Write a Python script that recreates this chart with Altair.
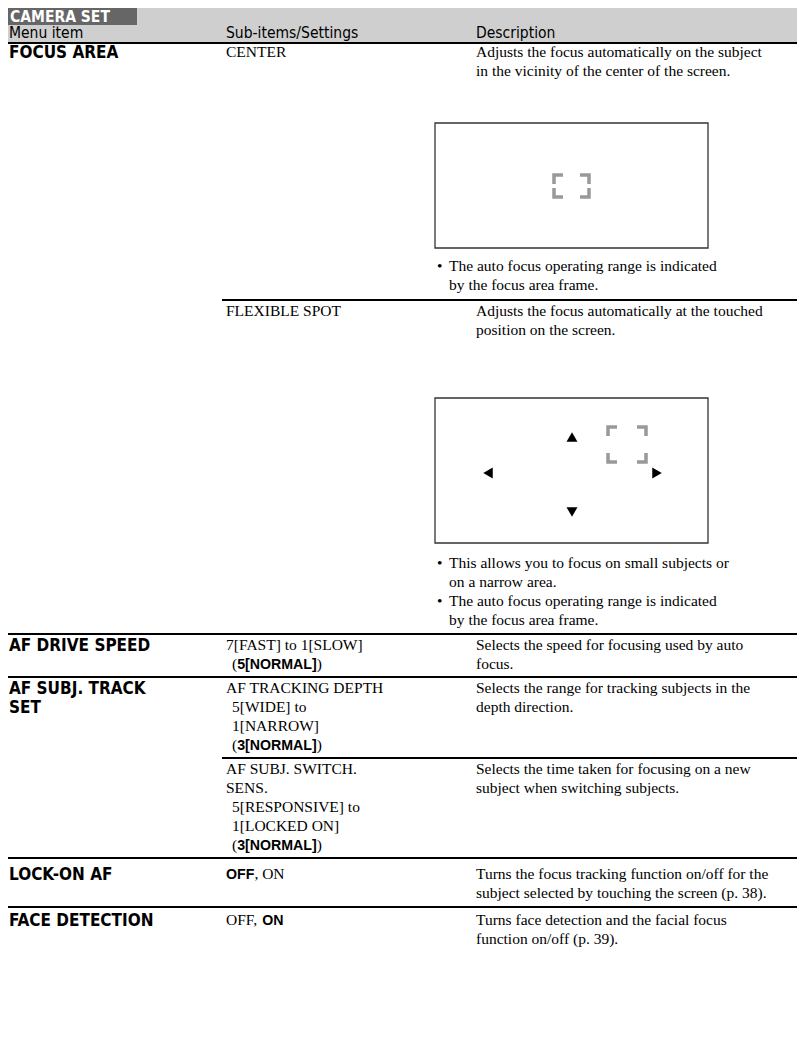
import altair as alt
import pandas as pd

# ---------------- content ----------------
TITLE = "CAMERA SET"
HEADERS = ["Menu item", "Sub-items/Settings", "Description"]

MENU_ITEMS = [["FOCUS AREA"], ["AF DRIVE SPEED"], ["AF SUBJ. TRACK", "SET"], ["LOCK-ON AF"], ["FACE DETECTION"]]

# each sub-item line: list of (text, bold) segments, plus indent flag
CENTER_SUB = [[("CENTER", 0)]]
CENTER_DESC = ["Adjusts the focus automatically on the subject",
               "in the vicinity of the center of the screen."]
CENTER_NOTES = [["The auto focus operating range is indicated", "by the focus area frame."]]

FLEX_SUB = [[("FLEXIBLE SPOT", 0)]]
FLEX_DESC = ["Adjusts the focus automatically at the touched", "position on the screen."]
FLEX_NOTES = [["This allows you to focus on small subjects or", "on a narrow area."],
              ["The auto focus operating range is indicated", "by the focus area frame."]]

DRIVE_SUB = [[("7[FAST] to 1[SLOW]", 0)], [("(", 0), ("5[NORMAL]", 1), (")", 0)]]
DRIVE_INDENT = [0, 1]
DRIVE_DESC = ["Selects the speed for focusing used by auto", "focus."]

DEPTH_SUB = [[("AF TRACKING DEPTH", 0)], [("5[WIDE] to", 0)], [("1[NARROW]", 0)],
             [("(", 0), ("3[NORMAL]", 1), (")", 0)]]
DEPTH_INDENT = [0, 1, 1, 1]
DEPTH_DESC = ["Selects the range for tracking subjects in the", "depth direction."]

SWITCH_SUB = [[("AF SUBJ. SWITCH.", 0)], [("SENS.", 0)], [("5[RESPONSIVE] to", 0)],
              [("1[LOCKED ON]", 0)], [("(", 0), ("3[NORMAL]", 1), (")", 0)]]
SWITCH_INDENT = [0, 0, 1, 1, 1]
SWITCH_DESC = ["Selects the time taken for focusing on a new", "subject when switching subjects."]

LOCK_SUB = [[("OFF", 1), (", ON", 0)]]
LOCK_DESC = ["Turns the focus tracking function on/off for the",
             "subject selected by touching the screen (p. 38)."]

FACE_SUB = [[("OFF, ", 0), ("ON", 1)]]
FACE_DESC = ["Turns face detection and the facial focus", "function on/off (p. 39)."]

ARROWS = ["triangle-up", "triangle-left", "triangle-right", "triangle-down"]

# ---------------- layout ----------------
W, H = 789, 1015
SERIF = "Liberation Serif, Times New Roman, serif"
COND = "DejaVu Sans Condensed, Liberation Sans Narrow, sans-serif"
SANS = "Liberation Sans, Arial, sans-serif"

STY = {
    "title": dict(font=COND, fontSize=15.5, fontWeight="bold", color="white"),
    "head": dict(font=COND, fontSize=15.5, fontWeight="normal", color="black"),
    "label": dict(font=COND, fontSize=17, fontWeight="bold", color="black"),
    "body": dict(font=SERIF, fontSize=15.5, fontWeight="normal", color="black"),
    "bold": dict(font=SANS, fontSize=14.2, fontWeight="bold", color="black"),
}
TIMES_W = {"(": 333, ")": 333, ",": 250, " ": 250, "O": 722, "N": 722, "F": 556}
ARIALB_W = {"[": 333, "]": 333, "N": 722, "O": 778, "R": 722, "M": 833, "A": 722,
            "L": 611, "F": 611, ",": 278, " ": 278}


def seg_w(text, bold):
    if bold:
        return sum(ARIALB_W.get(c, 556) for c in text) * STY["bold"]["fontSize"] / 1000
    return sum(TIMES_W.get(c, 500) for c in text) * STY["body"]["fontSize"] / 1000


X1, X2, X2I, X3 = 9, 226, 232, 476
XB, XBT = 437, 449
LH = 19
BASE_BODY = 5.3

texts = []


def add(x, yc, text, style, off=None):
    if off is None:
        off = 0.34 * STY[style]["fontSize"]
    texts.append(dict(x=x, y=yc + off, text=text, style=style))


def add_sub(lines, indents, y0):
    for i, segs in enumerate(lines):
        x = X2I if indents[i] else X2
        for t, b in segs:
            add(x, y0 + i * LH, t, "bold" if b else "body", BASE_BODY)
            x += seg_w(t, b)


def add_lines(x, lines, y0, style="body"):
    for i, t in enumerate(lines):
        add(x, y0 + i * LH, t, style)


def add_notes(notes, y0):
    k = 0
    for n in notes:
        for j, t in enumerate(n):
            if j == 0:
                add(XB, y0 + k * LH, "\u2022", "body")
            add(XBT, y0 + k * LH, t, "body")
            k += 1


add(10, 16.5, TITLE, "title")
for x, h in zip([X1, X2, X3], HEADERS):
    add(x, 33, h, "head")

rows_y = [52, 645, 688, 874, 920]
for y, item in zip(rows_y, MENU_ITEMS):
    add_lines(X1, item, y, "label")

add_sub(CENTER_SUB, [0], 52)
add_lines(X3, CENTER_DESC, 52)
add_notes(CENTER_NOTES, 266)

add_sub(FLEX_SUB, [0], 311)
add_lines(X3, FLEX_DESC, 311)
add_notes(FLEX_NOTES, 563)

add_sub(DRIVE_SUB, DRIVE_INDENT, 645)
add_lines(X3, DRIVE_DESC, 645)
add_sub(DEPTH_SUB, DEPTH_INDENT, 688)
add_lines(X3, DEPTH_DESC, 688)
add_sub(SWITCH_SUB, SWITCH_INDENT, 769)
add_lines(X3, SWITCH_DESC, 769)
add_sub(LOCK_SUB, [0], 874)
add_lines(X3, LOCK_DESC, 874)
add_sub(FACE_SUB, [0], 920)
add_lines(X3, FACE_DESC, 920)

text_df = pd.DataFrame(texts)

rects = pd.DataFrame([
    dict(x=4, x2=805, y=3, y2=42, kind="band"),
    dict(x=4, x2=137, y=3, y2=25, kind="dark"),
])
boxes = pd.DataFrame([
    dict(x=435, x2=708, y=123, y2=248),
    dict(x=435, x2=708, y=398, y2=543),
])
rules = pd.DataFrame([
    dict(x=4, x2=805, y=43),
    dict(x=222, x2=805, y=300),
    dict(x=4, x2=805, y=634),
    dict(x=4, x2=805, y=677),
    dict(x=222, x2=805, y=758),
    dict(x=4, x2=805, y=858),
    dict(x=4, x2=805, y=907),
])

# focus-frame brackets: (left, top, right, bottom)
frames = [(554, 175, 589, 197), (608, 427, 646, 462)]
ARM = 9
br = []
pid = 0
for (l, t, r, b) in frames:
    for cx, cy, sx, sy in [(l, t, 1, 1), (r, t, -1, 1), (l, b, 1, -1), (r, b, -1, -1)]:
        pts = [(cx + sx * ARM, cy), (cx, cy), (cx, cy + sy * ARM)]
        for o, (px, py) in enumerate(pts):
            br.append(dict(pid=pid, o=o, x=px, y=py))
        pid += 1
br_df = pd.DataFrame(br)

arrows_df = pd.DataFrame(dict(shape=ARROWS, x=[572, 488, 657, 572], y=[437, 473, 473, 512]))

xs = alt.Scale(domain=[8, 8 + W], range=[0, W])
ys = alt.Scale(domain=[8, 8 + H], range=[0, H])
X = lambda f="x": alt.X(f"{f}:Q", scale=xs, axis=None)
Y = lambda f="y": alt.Y(f"{f}:Q", scale=ys, axis=None)

band = alt.Chart(rects[rects.kind == "band"]).mark_rect(color="#cfcfcf").encode(
    x=X(), x2="x2", y=Y(), y2="y2")
dark = alt.Chart(rects[rects.kind == "dark"]).mark_rect(color="#666666").encode(
    x=X(), x2="x2", y=Y(), y2="y2")
box = alt.Chart(boxes).mark_rect(fill="white", stroke="#333333", strokeWidth=1.3).encode(
    x=X(), x2="x2", y=Y(), y2="y2")
rule = alt.Chart(rules).mark_rule(color="black", strokeWidth=2).encode(
    x=X(), x2="x2", y=Y())
brk = alt.Chart(br_df).mark_line(color="#999999", strokeWidth=3.5, strokeJoin="miter").encode(
    x=X(), y=Y(), detail="pid:N", order="o:Q")
arr = alt.Chart(arrows_df).mark_point(filled=True, color="black", size=120, opacity=1).encode(
    x=X(), y=Y(), shape=alt.Shape("shape:N", scale=None))

layers = [band, dark, box, rule, brk, arr]
for name, st in STY.items():
    sub = text_df[text_df["style"] == name]
    layers.append(
        alt.Chart(sub).mark_text(align="left", baseline="alphabetic", font=st["font"],
                                 fontSize=st["fontSize"], fontWeight=st["fontWeight"],
                                 color=st["color"]).encode(x=X(), y=Y(), text="text:N")
    )

chart = alt.layer(*layers).properties(width=W, height=H, padding=0, autosize="none").configure_view(
    strokeWidth=0)

chart.save("out.html", embed_options={"renderer": "svg", "actions": False})
